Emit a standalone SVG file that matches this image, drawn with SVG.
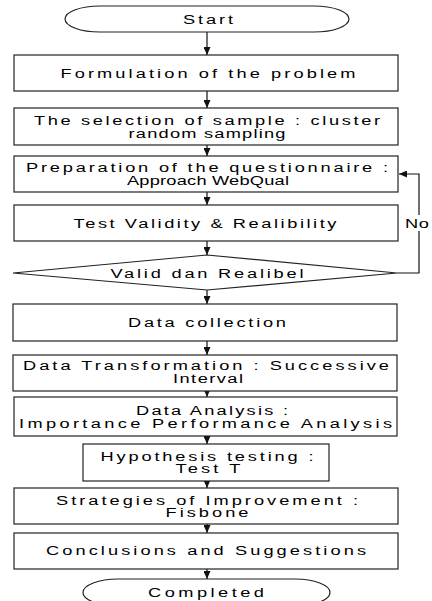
<svg xmlns="http://www.w3.org/2000/svg" width="432" height="601" viewBox="0 0 432 601">
<style>
.b{fill:#fff;stroke:#222;stroke-width:1.2}
.t{font-family:"Liberation Sans",Arial,sans-serif;font-size:13.5px;fill:#000;text-anchor:middle}
.c{fill:none;stroke:#111;stroke-width:1.2}
</style>
<defs>
<marker id="ah" viewBox="0 0 8 7" refX="8" refY="3.5" markerWidth="8" markerHeight="7" markerUnits="userSpaceOnUse" orient="auto">
<path d="M0,0 L8,3.5 L0,7 Z" fill="#111"/>
</marker>
</defs>
<rect width="432" height="601" fill="#fff"/>
<g id="connectors">
<line class="c" x1="207" y1="32" x2="207" y2="55" marker-end="url(#ah)"/>
<line class="c" x1="207" y1="91" x2="207" y2="108" marker-end="url(#ah)"/>
<line class="c" x1="207" y1="145" x2="207" y2="156" marker-end="url(#ah)"/>
<line class="c" x1="207" y1="192" x2="207" y2="205" marker-end="url(#ah)"/>
<line class="c" x1="207" y1="241" x2="207" y2="255" marker-end="url(#ah)"/>
<line class="c" x1="207" y1="290" x2="207" y2="304" marker-end="url(#ah)"/>
<line class="c" x1="207" y1="341" x2="207" y2="355" marker-end="url(#ah)"/>
<line class="c" x1="207" y1="391" x2="207" y2="397" marker-end="url(#ah)"/>
<line class="c" x1="207" y1="436" x2="207" y2="444" marker-end="url(#ah)"/>
<line class="c" x1="207" y1="481" x2="207" y2="488" marker-end="url(#ah)"/>
<line class="c" x1="207" y1="524" x2="207" y2="533" marker-end="url(#ah)"/>
<line class="c" x1="207" y1="569" x2="207" y2="579" marker-end="url(#ah)"/>
<polyline class="c" points="397,273 419,273 419,174 399,174" marker-end="url(#ah)"/>
<rect x="403" y="215" width="29" height="16" fill="#fff"/>
<text class="t" transform="scale(1.35,1)" x="300" y="228" style="text-anchor:start;letter-spacing:0.5px">No</text>
</g>
<g id="start">
<rect class="b" x="65" y="6" width="284" height="26" rx="35" ry="13"/>
<text class="t" transform="scale(1.35,1)" x="154.07" y="24" textLength="37.04" lengthAdjust="spacing">Start</text>
</g>
<g id="formulation">
<rect class="b" x="14" y="55" width="384" height="36"/>
<text class="t" transform="scale(1.35,1)" x="154.07" y="78" textLength="218.52" lengthAdjust="spacing">Formulation of the problem</text>
</g>
<g id="sample">
<rect class="b" x="14" y="108" width="384" height="37"/>
<text class="t" transform="scale(1.35,1)" x="153.33" y="125" textLength="256.3" lengthAdjust="spacing">The selection of sample : cluster</text>
<text class="t" transform="scale(1.35,1)" x="153.33" y="138" textLength="116.3" lengthAdjust="spacing">random sampling</text>
</g>
<g id="questionnaire">
<rect class="b" x="14" y="156" width="384" height="36"/>
<text class="t" transform="scale(1.35,1)" x="153.33" y="172" textLength="268.15" lengthAdjust="spacing">Preparation of the questionnaire :</text>
<text class="t" transform="scale(1.35,1)" x="154.07" y="185" textLength="120" lengthAdjust="spacing">Approach WebQual</text>
</g>
<g id="validity">
<rect class="b" x="14" y="205" width="384" height="36"/>
<text class="t" transform="scale(1.35,1)" x="151.85" y="228" textLength="194.8" lengthAdjust="spacing">Test Validity &amp; Realibility</text>
</g>
<g id="decision">
<polygon class="b" points="207,255 397,273 207,290 13,273"/>
<text class="t" transform="scale(1.35,1)" x="153.33" y="278" textLength="142.96" lengthAdjust="spacing">Valid dan Realibel</text>
</g>
<g id="collection">
<rect class="b" x="13" y="304" width="384" height="37"/>
<text class="t" transform="scale(1.35,1)" x="153.33" y="327" textLength="117.04" lengthAdjust="spacing">Data collection</text>
</g>
<g id="transformation">
<rect class="b" x="13" y="355" width="384" height="36"/>
<text class="t" transform="scale(1.35,1)" x="152.59" y="370" textLength="271.1" lengthAdjust="spacing">Data Transformation : Successive</text>
<text class="t" transform="scale(1.35,1)" x="154.07" y="383" textLength="51.85" lengthAdjust="spacing">Interval</text>
</g>
<g id="analysis">
<rect class="b" x="14" y="397" width="383" height="39"/>
<text class="t" transform="scale(1.35,1)" x="157.04" y="415" textLength="112.6" lengthAdjust="spacing">Data Analysis :</text>
<text class="t" transform="scale(1.35,1)" x="152.22" y="428" textLength="276.3" lengthAdjust="spacing">Importance Performance Analysis</text>
</g>
<g id="hypothesis">
<rect class="b" x="83" y="444" width="246" height="37"/>
<text class="t" transform="scale(1.35,1)" x="153.33" y="461" textLength="157.8" lengthAdjust="spacing">Hypothesis testing :</text>
<text class="t" transform="scale(1.35,1)" x="154.07" y="473" textLength="48.15" lengthAdjust="spacing">Test T</text>
</g>
<g id="strategies">
<rect class="b" x="14" y="488" width="384" height="36"/>
<text class="t" transform="scale(1.35,1)" x="153.33" y="505" textLength="223.7" lengthAdjust="spacing">Strategies of Improvement :</text>
<text class="t" transform="scale(1.35,1)" x="153.33" y="517" textLength="61.48" lengthAdjust="spacing">Fisbone</text>
</g>
<g id="conclusions">
<rect class="b" x="14" y="533" width="384" height="36"/>
<text class="t" transform="scale(1.35,1)" x="152.59" y="555" textLength="237.04" lengthAdjust="spacing">Conclusions and Suggestions</text>
</g>
<g id="completed">
<rect class="b" x="83" y="579" width="247" height="27" rx="35" ry="13.5"/>
<text class="t" transform="scale(1.35,1)" x="152.59" y="597" textLength="85.93" lengthAdjust="spacing">Completed</text>
</g>
</svg>
